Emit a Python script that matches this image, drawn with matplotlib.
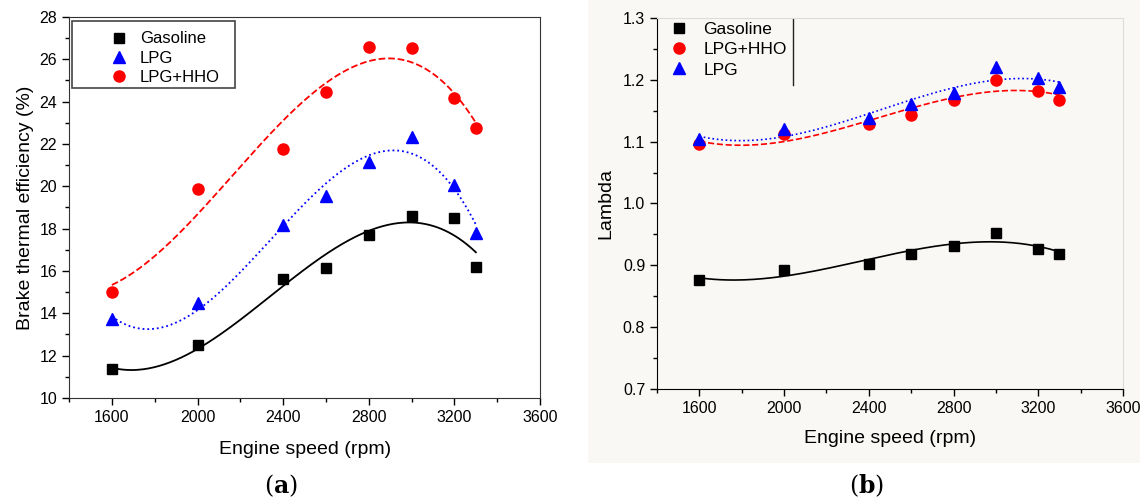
import numpy as np
import matplotlib.pyplot as plt
from matplotlib.ticker import MultipleLocator
from matplotlib.patches import Rectangle

plt.rcParams['font.family'] = ['Liberation Sans', 'DejaVu Sans']
plt.rcParams['mathtext.fontset'] = 'dejavuserif'

# engine speed (rpm)
speed = np.array([1600, 2000, 2400, 2600, 2800, 3000, 3200, 3300])

# (a) brake thermal efficiency (%)
bte_gasoline = [11.35, 12.50, 15.62, 16.13, 17.70, 18.58, 18.50, 16.20]
bte_lpg = [13.73, 14.49, 18.19, 19.56, 21.15, 22.35, 20.06, 17.80]
bte_hho = [15.02, 19.86, 21.76, 24.46, 26.58, 26.54, 24.17, 22.77]

# (b) lambda
lam_gasoline = [0.877, 0.892, 0.902, 0.919, 0.932, 0.953, 0.927, 0.919]
lam_hho = [1.097, 1.112, 1.128, 1.143, 1.168, 1.200, 1.182, 1.168]
lam_lpg = [1.105, 1.120, 1.138, 1.161, 1.178, 1.221, 1.203, 1.188]


def trend(y, deg=3):
    """polynomial trend line through the measured points"""
    c = np.polyfit(speed / 1000.0, y, deg)
    xs = np.linspace(speed.min(), speed.max(), 200)
    return xs, np.polyval(c, xs / 1000.0)


def style_axes(ax):
    ax.set_xlim(1400, 3600)
    ax.xaxis.set_major_locator(MultipleLocator(400))
    ax.xaxis.set_minor_locator(MultipleLocator(200))
    ax.tick_params(which='major', direction='out', length=5, width=1, labelsize=11.5)
    ax.tick_params(which='minor', direction='out', length=3, width=1)


fig = plt.figure(figsize=(11.45, 5.01), dpi=100)
# faint background of panel (b)
fig.patches.append(Rectangle((0.5135, 0.076), 0.4821, 0.924, transform=fig.transFigure,
                             facecolor='#f9f8f5', edgecolor='none', zorder=-1))

# ---------- (a) ----------
ax1 = fig.add_axes([0.0603, 0.2056, 0.4114, 0.7605])
ax1.set_facecolor('white')
series_a = [(bte_gasoline, 'k', 's', 6.5, '-', 'Gasoline'),
            (bte_lpg, 'b', '^', 8, ':', 'LPG'),
            (bte_hho, 'r', 'o', 8, '--', 'LPG+HHO')]
for y, c, m, ms, ls, lab in series_a:
    xs, ys = trend(y)
    ax1.plot(xs, ys, color=c, linestyle=ls, linewidth=1.3)
    ax1.plot(speed, y, linestyle='none', marker=m, color=c, markersize=ms, label=lab, zorder=5)
ax1.set_ylim(10, 28)
ax1.yaxis.set_major_locator(MultipleLocator(2))
ax1.yaxis.set_minor_locator(MultipleLocator(1))
style_axes(ax1)
ax1.set_xlabel('Engine speed (rpm)', fontsize=14, labelpad=12)
ax1.set_ylabel('Brake thermal efficiency (%)', fontsize=14, labelpad=4)
ax1.legend(loc='upper left', bbox_to_anchor=(0.078, 0.962), fontsize=12, frameon=False,
           borderpad=0, borderaxespad=0, handlelength=1.6, handletextpad=0.46,
           labelspacing=0.25)
ax1.add_patch(Rectangle((0.0064, 0.8136), 0.3456, 0.1759, transform=ax1.transAxes,
                        facecolor='none', edgecolor='#444444', linewidth=1.2, zorder=6))
for s in ax1.spines.values():
    s.set_color('#333333')
fig.text(0.245, 0.03, r'($\mathbf{a}$)', fontsize=17, family='DejaVu Serif',
         ha='center', va='center')

# ---------- (b) ----------
ax2 = fig.add_axes([0.5738, 0.2236, 0.407, 0.7405])
ax2.set_facecolor('none')
series_b = [(lam_gasoline, 'k', 's', 6.5, '-', 'Gasoline'),
            (lam_hho, 'r', 'o', 8, '--', 'LPG+HHO'),
            (lam_lpg, 'b', '^', 8, ':', 'LPG')]
for y, c, m, ms, ls, lab in series_b:
    xs, ys = trend(y)
    ax2.plot(xs, ys, color=c, linestyle=ls, linewidth=1.2)
    ax2.plot(speed, y, linestyle='none', marker=m, color=c, markersize=ms, label=lab, zorder=5)
ax2.set_ylim(0.7, 1.3)
ax2.yaxis.set_major_locator(MultipleLocator(0.1))
ax2.yaxis.set_minor_locator(MultipleLocator(0.05))
ax2.yaxis.set_major_formatter(plt.FormatStrFormatter('%.1f'))
style_axes(ax2)
ax2.set_xlabel('Engine speed (rpm)', fontsize=14, labelpad=10)
ax2.set_ylabel('Lambda', fontsize=14, labelpad=6)
ax2.legend(loc='upper left', bbox_to_anchor=(0.018, 0.99), fontsize=12.5, frameon=False,
           borderpad=0, borderaxespad=0, handlelength=1.6, handletextpad=0.6,
           labelspacing=0.3)
ax2.plot([0.291, 0.291], [1.0, 0.82], color='#222222', linewidth=1, transform=ax2.transAxes)
ax2.spines['top'].set_color('#dddddd')
ax2.spines['right'].set_color('#dddddd')
fig.text(0.757, 0.03, r'($\mathbf{b}$)', fontsize=17, family='DejaVu Serif',
         ha='center', va='center')

fig.savefig('out.png', dpi=100)
